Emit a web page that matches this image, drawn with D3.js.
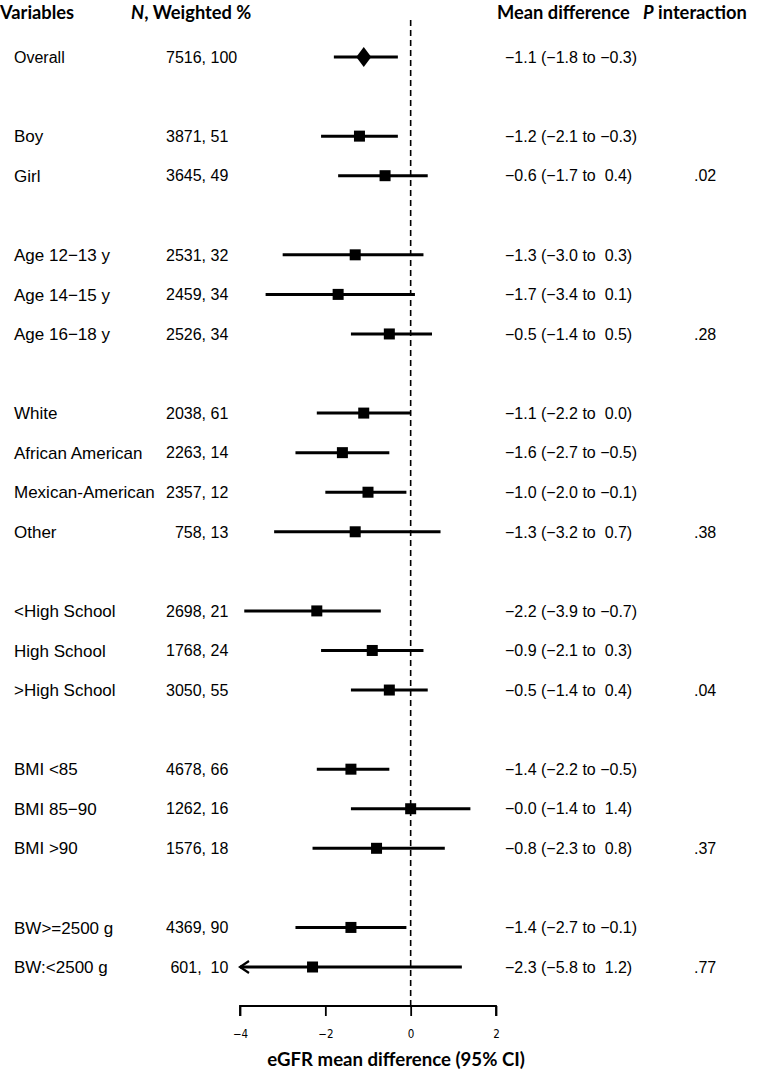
<!DOCTYPE html>
<html>
<head>
<meta charset="utf-8">
<script src="https://cdn.jsdelivr.net/npm/d3@7"></script>
<style>
  html, body { margin: 0; padding: 0; background: #fff; }
  svg text { white-space: pre; }
</style>
</head>
<body>
<script>
// ---- data ----
const labels = ["Overall","Boy","Girl","Age 12\u221213 y","Age 14\u221215 y","Age 16\u221218 y",
  "White","African American","Mexican-American","Other",
  "<High School","High School",">High School",
  "BMI <85","BMI 85\u221290","BMI >90",
  "BW>=2500 g","BW:<2500 g"];
const groupSizes = [1,2,3,4,3,3,2];
const nWeighted = ["7516, 100","3871, 51","3645, 49","2531, 32","2459, 34","2526, 34",
  "2038, 61","2263, 14","2357, 12","\u2007758, 13",
  "2698, 21","1768, 24","3050, 55",
  "4678, 66","1262, 16","1576, 18",
  "4369, 90"," 601,  10"];
const estimate = [-1.1,-1.2,-0.6,-1.3,-1.7,-0.5,-1.1,-1.6,-1.0,-1.3,-2.2,-0.9,-0.5,-1.4,-0.0,-0.8,-1.4,-2.3];
const lower    = [-1.8,-2.1,-1.7,-3.0,-3.4,-1.4,-2.2,-2.7,-2.0,-3.2,-3.9,-2.1,-1.4,-2.2,-1.4,-2.3,-2.7,-5.8];
const upper    = [-0.3,-0.3, 0.4, 0.3, 0.1, 0.5, 0.0,-0.5,-0.1, 0.7,-0.7, 0.3, 0.4,-0.5, 1.4, 0.8,-0.1, 1.2];
const meanText = ["\u22121.1 (\u22121.8 to \u22120.3)","\u22121.2 (\u22122.1 to \u22120.3)","\u22120.6 (\u22121.7 to  0.4)",
  "\u22121.3 (\u22123.0 to  0.3)","\u22121.7 (\u22123.4 to  0.1)","\u22120.5 (\u22121.4 to  0.5)",
  "\u22121.1 (\u22122.2 to  0.0)","\u22121.6 (\u22122.7 to \u22120.5)","\u22121.0 (\u22122.0 to \u22120.1)","\u22121.3 (\u22123.2 to  0.7)",
  "\u22122.2 (\u22123.9 to \u22120.7)","\u22120.9 (\u22122.1 to  0.3)","\u22120.5 (\u22121.4 to  0.4)",
  "\u22121.4 (\u22122.2 to \u22120.5)","\u22120.0 (\u22121.4 to  1.4)","\u22120.8 (\u22122.3 to  0.8)",
  "\u22121.4 (\u22122.7 to \u22120.1)","\u22122.3 (\u22125.8 to  1.2)"];
const pInteraction = ["","",".02","","",".28","","","",".38","","",".04","","",".37","",".77"];
const xTicks = [-4,-2,0,2];
const xTickLabels = ["\u22124","\u22122","0","2"];
const headers = ["Variables","N, Weighted %","Mean difference","P interaction"];
const axisTitle = "eGFR mean difference (95% CI)";

// ---- layout ----
const W = 763, H = 1072;
const svg = d3.select("body").append("svg").attr("width", W).attr("height", H);

const rowIndex = [];
let r = 0;
groupSizes.forEach(g => {
  for (let i = 0; i < g; i++) rowIndex.push(r++);
  r++; // blank row between groups
});
const nRows = rowIndex[rowIndex.length - 1];
const y = d3.scaleLinear().domain([0, nRows]).range([57, 967]);
const x = d3.scaleLinear().domain([-4, 2]).range([240, 496]);
const rows = labels.map((l, i) => ({label: l, n: nWeighted[i], est: estimate[i], lo: lower[i], hi: upper[i],
  mt: meanText[i], p: pInteraction[i], row: rowIndex[i], i}));

const bodyFont = "'Liberation Sans', Arial, sans-serif";
const headFont = "Lato, 'Open Sans', sans-serif";

// headers
const hdr = svg.append("g").attr("font-family", headFont).attr("font-weight", "bold").attr("font-size", 18.3).attr("fill", "#000");
hdr.append("text").attr("x", 0).attr("y", 18.5).text(headers[0]);
const h2 = hdr.append("text").attr("x", 131).attr("y", 18.5);
h2.append("tspan").attr("font-style", "italic").text("N");
h2.append("tspan").text(headers[1].slice(1));
hdr.append("text").attr("x", 497).attr("y", 18.5).text(headers[2]);
const h4 = hdr.append("text").attr("x", 643).attr("y", 18.5);
h4.append("tspan").attr("font-style", "italic").text("P");
h4.append("tspan").text(headers[3].slice(1));

// reference dashed line at 0
svg.append("line").attr("x1", x(0)).attr("x2", x(0)).attr("y1", 20).attr("y2", 1006)
  .attr("stroke", "#000").attr("stroke-width", 1.6).attr("stroke-dasharray", "6,4");

// text columns
const tg = svg.append("g").attr("font-family", bodyFont).attr("font-size", 16).attr("fill", "#000");
tg.selectAll("text.lab").data(rows).join("text").attr("class", "lab")
  .attr("x", 14).attr("y", d => y(d.row)).attr("dy", "0.36em")
  .attr("font-size", d => d.i === 0 ? 16 : 17).text(d => d.label);
tg.selectAll("text.n").data(rows).join("text").attr("class", "n")
  .attr("x", 166).attr("y", d => y(d.row)).attr("dy", "0.36em").text(d => d.n);
tg.selectAll("text.mt").data(rows).join("text").attr("class", "mt")
  .attr("x", 505).attr("y", d => y(d.row)).attr("dy", "0.36em").text(d => d.mt);
tg.selectAll("text.p").data(rows).join("text").attr("class", "p")
  .attr("x", 694).attr("y", d => y(d.row)).attr("dy", "0.36em").text(d => d.p);

// CI lines (clipped to axis domain)
const [dmin, dmax] = x.domain();
const marks = svg.append("g");
marks.selectAll("line.ci").data(rows).join("line").attr("class", "ci")
  .attr("x1", d => x(Math.max(d.lo, dmin))).attr("x2", d => x(Math.min(d.hi, dmax)))
  .attr("y1", d => y(d.row)).attr("y2", d => y(d.row))
  .attr("stroke", "#000").attr("stroke-width", 3);

// arrows for clipped CIs
marks.selectAll("path.arrow").data(rows.filter(d => d.lo < dmin)).join("path").attr("class", "arrow")
  .attr("d", d => { const ax = x(dmin), ay = y(d.row); return `M${ax + 9},${ay - 6}L${ax},${ay}L${ax + 9},${ay + 6}`; })
  .attr("fill", "none").attr("stroke", "#000").attr("stroke-width", 2.2);

// boxes (subgroups) and diamond (overall)
const box = 11;
marks.selectAll("rect.pt").data(rows.filter(d => d.i > 0)).join("rect").attr("class", "pt")
  .attr("x", d => x(d.est) - box / 2).attr("y", d => y(d.row) - box / 2)
  .attr("width", box).attr("height", box).attr("fill", "#000");
marks.selectAll("path.dia").data(rows.filter(d => d.i === 0)).join("path").attr("class", "dia")
  .attr("d", d => { const cx = x(d.est), cy = y(d.row); return `M${cx - 7.5},${cy}L${cx},${cy - 10}L${cx + 7.5},${cy}L${cx},${cy + 10}Z`; })
  .attr("fill", "#000");

// axis
const axisY = 1006;
const ax = svg.append("g").attr("transform", `translate(0,${axisY})`)
  .call(d3.axisBottom(x).tickValues(xTicks).tickSize(10).tickPadding(14)
    .tickFormat((d, i) => xTickLabels[i]));
ax.select(".domain").attr("d", `M${x(dmin)},10V0H${x(dmax)}V10`).attr("stroke-width", 1.8);
ax.selectAll(".tick line").attr("stroke-width", 1.8);
ax.selectAll(".tick text").attr("font-family", "'DejaVu Sans Condensed', 'Liberation Sans Narrow', sans-serif")
  .attr("font-size", 11.5).attr("fill", "#000");

svg.append("text").attr("x", 396).attr("y", 1066).attr("text-anchor", "middle")
  .attr("font-family", headFont).attr("font-weight", "bold").attr("font-size", 18.6).text(axisTitle);
</script>
</body>
</html>
